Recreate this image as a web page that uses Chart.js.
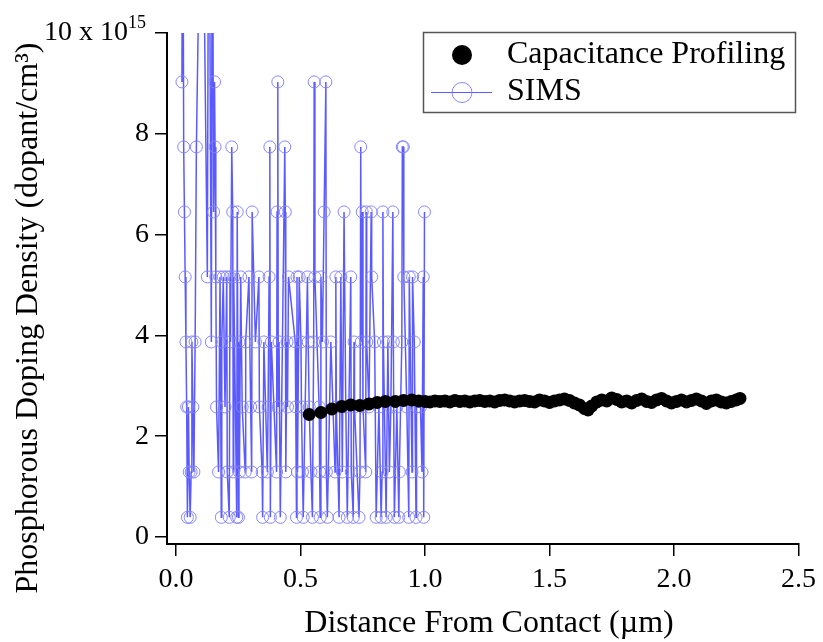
<!DOCTYPE html>
<html>
<head>
<meta charset="utf-8">
<script src="https://cdn.jsdelivr.net/npm/chart.js@4"></script>
<style>
html,body{margin:0;padding:0;background:#fff;}
canvas{display:block;}
</style>
</head>
<body>
<canvas id="c" width="823" height="642"></canvas>
<script>
// ---- data ----
const xTicks = [0.0, 0.5, 1.0, 1.5, 2.0, 2.5];
const yTicks = [0, 2, 4, 6, 8, 10];
const yTopBase = '10 x 10';
const yTopExp = '15';

const capX = [0.535,0.582,0.626,0.666,0.702,0.738,0.775,0.808,0.841,0.881,0.914,0.947,0.975,1.000,
1.02,1.04,1.06,1.08,1.10,1.12,1.14,1.16,1.18,1.20,1.22,1.24,1.26,1.28,1.30,1.32,1.34,1.36,1.38,1.40,
1.42,1.44,1.46,1.48,1.50,1.52,1.54,1.56,1.58,1.60,1.62,1.64,1.655,1.67,1.69,1.71,1.73,1.75,1.77,1.79,
1.81,1.83,1.85,1.87,1.89,1.91,1.93,1.95,1.97,1.99,2.01,2.03,2.05,2.07,2.09,2.11,2.13,2.15,2.17,2.19,
2.21,2.23,2.25,2.265];
const capY = [2.43,2.47,2.54,2.59,2.62,2.61,2.64,2.67,2.69,2.69,2.71,2.72,2.70,2.69,
2.68,2.70,2.69,2.70,2.68,2.71,2.69,2.70,2.68,2.70,2.71,2.69,2.70,2.68,2.71,2.72,2.70,2.68,2.70,2.71,
2.69,2.68,2.72,2.70,2.67,2.70,2.72,2.74,2.71,2.66,2.62,2.55,2.52,2.60,2.68,2.72,2.70,2.76,2.73,2.68,
2.70,2.66,2.71,2.74,2.69,2.67,2.72,2.75,2.70,2.66,2.69,2.72,2.68,2.71,2.74,2.70,2.65,2.70,2.72,2.68,
2.66,2.69,2.72,2.75];

const simsX = [0.024,0.027,0.031,0.034,0.037,0.040,0.043,0.046,0.050,0.053,0.057,0.061,0.064,0.068,0.072,0.077,0.082,0.104,0.126,0.132,
0.142,0.146,0.151,0.155,0.157,0.160,0.163,0.171,0.177,0.182,0.184,0.190,0.197,0.204,0.206,0.214,0.217,0.219,0.224,0.228,
0.230,0.232,0.244,0.246,0.251,0.253,0.255,0.260,0.266,0.278,0.280,0.293,0.300,0.304,0.306,0.319,0.333,0.335,0.346,0.348,
0.353,0.367,0.370,0.374,0.377,0.379,0.383,0.404,0.406,0.409,0.411,0.414,0.419,0.437,0.439,0.441,0.446,0.448,0.452,0.479,
0.481,0.484,0.486,0.488,0.495,0.502,0.504,0.508,0.511,0.528,0.531,0.535,0.542,0.548,0.553,0.555,0.558,0.575,0.577,0.579,
0.582,0.588,0.595,0.602,0.604,0.608,0.622,0.639,0.642,0.644,0.655,0.662,0.668,0.675,0.682,0.688,0.702,0.704,0.712,0.715,
0.717,0.735,0.739,0.742,0.744,0.748,0.751,0.762,0.764,0.766,0.775,0.784,0.786,0.798,0.804,0.815,0.824,0.828,0.831,0.833,
0.844,0.851,0.857,0.863,0.871,0.873,0.877,0.887,0.895,0.897,0.907,0.909,0.913,0.915,0.927,0.935,0.937,0.948,0.950,0.957,
0.964,0.966,0.982,0.988,0.993,0.995,0.998];
const simsY = [9.03,15,7.74,6.45,5.16,3.87,2.58,0.39,2.58,1.29,0.39,1.29,3.87,2.58,1.29,3.87,7.74,15,5.16,15,
3.87,15,6.45,9.03,7.74,5.16,2.58,1.29,5.16,0.39,3.87,5.16,2.58,5.16,1.29,0.39,5.16,3.87,7.74,6.45,
1.29,5.16,0.39,6.45,0.39,3.87,1.29,5.16,2.58,1.29,3.87,5.16,2.58,1.29,6.45,3.87,5.16,2.58,1.29,0.39,
3.87,1.29,2.58,5.16,7.74,0.39,3.87,1.29,6.45,9.03,2.58,3.87,0.39,7.74,6.45,1.29,3.87,2.58,5.16,3.87,
2.58,0.39,5.16,1.29,5.16,3.87,2.58,1.29,0.39,5.16,3.87,2.58,1.29,0.39,3.87,9.03,5.16,2.58,1.29,0.39,
5.16,3.87,6.45,9.03,1.29,0.39,3.87,1.29,5.16,2.58,0.39,5.16,1.29,6.45,2.58,0.39,5.16,1.29,0.39,3.87,
2.58,0.39,1.29,7.74,3.87,6.45,2.58,1.29,6.45,3.87,2.58,6.45,5.16,3.87,0.39,2.58,0.39,1.29,6.45,3.87,
0.39,3.87,1.29,2.58,6.45,3.87,0.39,2.58,0.39,1.29,3.87,7.74,7.74,5.16,2.58,0.39,5.16,1.29,5.16,3.87,
0.39,2.58,2.58,1.29,5.16,0.39,6.45];

const capName = 'Capacitance Profiling';
const simsName = 'SIMS';
const xTitle = 'Distance From Contact (\u00B5m)';
const yTitle = 'Phosphorous Doping Density (dopant/cm\u00B3)';

// ---- chart ----
const FONT = '"Liberation Serif", "Times New Roman", serif';
const simsLine = 'rgb(90,90,255)';
const simsPt = 'rgba(130,130,255,0.95)';

const overlay = {
  id: 'overlay',
  afterDraw(chart) {
    const ctx = chart.ctx;
    ctx.save();
    ctx.fillStyle = '#000';
    ctx.textBaseline = 'middle';
    // top y tick label with exponent
    const yTop = chart.scales.y.getPixelForValue(10);
    ctx.font = '28px ' + FONT;
    ctx.textAlign = 'right';
    ctx.fillText(yTopBase, 128, yTop);
    ctx.font = '18px ' + FONT;
    ctx.textAlign = 'left';
    ctx.fillText(yTopExp, 128, yTop - 10);
    // axis titles
    ctx.textAlign = 'center';
    ctx.font = '32px ' + FONT;
    ctx.fillText(xTitle, 489, 624);
    ctx.save();
    ctx.translate(29, 318);
    ctx.rotate(-Math.PI / 2);
    ctx.font = '32px ' + FONT;
    ctx.fillText(yTitle, 0, 0);
    ctx.restore();
    // legend
    ctx.lineWidth = 1.5;
    ctx.strokeStyle = '#555';
    ctx.strokeRect(423.5, 32.5, 372, 80);
    ctx.beginPath();
    ctx.arc(462, 55, 10, 0, Math.PI * 2);
    ctx.fillStyle = '#000';
    ctx.fill();
    ctx.beginPath();
    ctx.moveTo(431, 92.5);
    ctx.lineTo(492, 92.5);
    ctx.strokeStyle = simsLine;
    ctx.lineWidth = 1;
    ctx.stroke();
    ctx.beginPath();
    ctx.arc(462, 92.5, 10, 0, Math.PI * 2);
    ctx.strokeStyle = simsPt;
    ctx.stroke();
    ctx.fillStyle = '#000';
    ctx.textAlign = 'left';
    ctx.font = '32px ' + FONT;
    ctx.fillText(capName, 507, 55);
    ctx.fillText(simsName, 507, 92);
    ctx.restore();
  }
};

new Chart(document.getElementById('c'), {
  type: 'scatter',
  data: {
    datasets: [
      {
        label: capName,
        data: capX.map((x, i) => ({x: x, y: capY[i]})),
        showLine: false,
        pointStyle: 'circle',
        pointRadius: 6.5,
        pointBackgroundColor: '#000',
        pointBorderColor: '#000',
        pointBorderWidth: 0,
        order: 0
      },
      {
        label: simsName,
        data: simsX.map((x, i) => ({x: x, y: simsY[i]})),
        showLine: true,
        borderColor: simsLine,
        borderWidth: 1.5,
        tension: 0,
        pointStyle: 'circle',
        pointRadius: 6,
        pointBackgroundColor: 'rgba(0,0,0,0)',
        pointBorderColor: simsPt,
        pointBorderWidth: 1,
        order: 1
      }
    ]
  },
  options: {
    responsive: false,
    animation: false,
    devicePixelRatio: 1,
    layout: { padding: { left: 0, right: 21, top: 33, bottom: 0 } },
    plugins: { legend: { display: false }, tooltip: { enabled: false } },
    scales: {
      x: {
        type: 'linear',
        min: -0.036,
        max: 2.5,
        afterFit(s) { s.height = 98; },
        afterBuildTicks(s) { s.ticks = xTicks.map(v => ({value: v})); },
        ticks: {
          color: '#000',
          font: { family: FONT, size: 28 },
          padding: 7,
          maxRotation: 0,
          callback: v => Number(v).toFixed(1)
        },
        grid: { drawOnChartArea: false, drawTicks: true, tickLength: 12, color: '#000', lineWidth: 1.5 },
        border: { color: '#000', width: 2 }
      },
      y: {
        type: 'linear',
        min: -0.139,
        max: 10,
        afterFit(s) { s.width = 167; },
        afterBuildTicks(s) { s.ticks = yTicks.map(v => ({value: v})); },
        ticks: {
          color: '#000',
          font: { family: FONT, size: 28 },
          padding: 6,
          callback: v => (v === 10 ? '' : String(v))
        },
        grid: { drawOnChartArea: false, drawTicks: true, tickLength: 12, color: '#000', lineWidth: 1.5 },
        border: { color: '#000', width: 2 }
      }
    }
  },
  plugins: [overlay]
});
</script>
</body>
</html>
